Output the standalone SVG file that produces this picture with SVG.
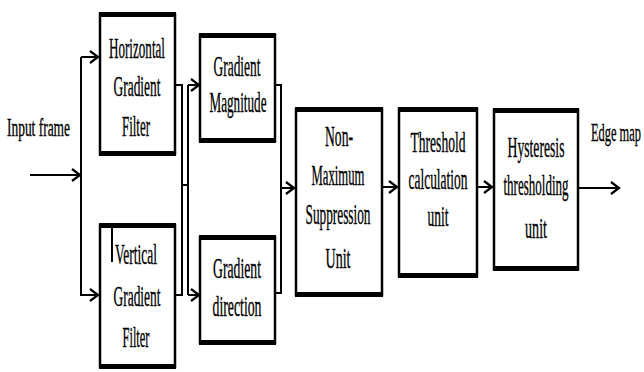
<svg xmlns="http://www.w3.org/2000/svg" width="644" height="372" viewBox="0 0 644 372">
<defs>
<marker id="arr" markerUnits="userSpaceOnUse" markerWidth="14" markerHeight="16" refX="9" refY="7" orient="auto">
<path d="M1,1 L9,7 L1,13" fill="none" stroke="#000" stroke-width="2.2"/>
</marker>
</defs>
<style>
.box{fill:#fff;stroke:#000;stroke-width:2.5}
.thick{stroke:#000;stroke-width:5;fill:none}
.t{font-family:"Liberation Serif","Times New Roman",serif;font-size:29px;fill:#000;stroke:#000;stroke-width:0.35;text-anchor:middle}
.c{fill:none;stroke:#000;stroke-width:2}
</style>
<rect width="644" height="372" fill="#fff"/>
<g id="connectors">
<path class="c" d="M30,175 H80" stroke-width="3" marker-end="url(#arr)"/>
<path class="c" d="M81,57 V296"/>
<path class="c" d="M81,57 H98" marker-end="url(#arr)"/>
<path class="c" d="M81,295 H98" marker-end="url(#arr)"/>
<path class="c" d="M175,85 H182 V295 H175"/>
<path class="c" d="M182,185 H188"/>
<path class="c" d="M188,85 V295"/>
<path class="c" d="M188,85 H199" marker-end="url(#arr)"/>
<path class="c" d="M188,295 H199" marker-end="url(#arr)"/>
<path class="c" d="M275,85 H281 V293 H275"/>
<path class="c" d="M281,188 H294" marker-end="url(#arr)"/>
<path class="c" d="M382,187 H397" marker-end="url(#arr)"/>
<path class="c" d="M477,187 H492" marker-end="url(#arr)"/>
<path class="c" d="M578,188 H619" marker-end="url(#arr)"/>
</g>
<g id="input-label"><text class="t" x="7" y="136" style="text-anchor:start;font-size:25px" textLength="63" lengthAdjust="spacingAndGlyphs">Input frame</text></g>
<g id="hfilter">
<rect class="box" x="100" y="14" width="75" height="140"/>
<path class="thick" d="M99,14.5 H176 M99,153.5 H176"/>
<text class="t" x="137" y="58" textLength="56" lengthAdjust="spacingAndGlyphs">Horizontal</text>
<text class="t" x="137" y="96" textLength="47" lengthAdjust="spacingAndGlyphs">Gradient</text>
<text class="t" x="136" y="136" textLength="28" lengthAdjust="spacingAndGlyphs">Filter</text>
</g>
<g id="vfilter">
<rect class="box" x="100" y="225" width="75" height="142"/>
<path class="thick" d="M99,225.5 H176 M99,366.5 H176"/>
<path class="c" d="M112,226 V262" stroke-width="1.5"/>
<text class="t" x="136" y="264" textLength="42" lengthAdjust="spacingAndGlyphs">Vertical</text>
<text class="t" x="137" y="306" textLength="47" lengthAdjust="spacingAndGlyphs">Gradient</text>
<text class="t" x="136" y="347" textLength="27" lengthAdjust="spacingAndGlyphs">Filter</text>
</g>
<g id="gmag">
<rect class="box" x="200" y="35" width="75" height="106"/>
<path class="thick" d="M199,35.5 H276 M199,140.5 H276"/>
<text class="t" x="237" y="76" textLength="47" lengthAdjust="spacingAndGlyphs">Gradient</text>
<text class="t" x="238" y="112" textLength="57" lengthAdjust="spacingAndGlyphs">Magnitude</text>
</g>
<g id="gdir">
<rect class="box" x="200" y="237" width="75" height="106"/>
<path class="thick" d="M199,237.5 H276 M199,342.5 H276"/>
<text class="t" x="237" y="278" textLength="48" lengthAdjust="spacingAndGlyphs">Gradient</text>
<text class="t" x="237" y="316" textLength="49" lengthAdjust="spacingAndGlyphs">direction</text>
</g>
<g id="nms">
<rect class="box" x="296" y="109" width="86" height="186"/>
<path class="thick" d="M295,109.5 H383 M295,294.5 H383"/>
<text class="t" x="339" y="146" textLength="28" lengthAdjust="spacingAndGlyphs">Non-</text>
<text class="t" x="338" y="185" textLength="53" lengthAdjust="spacingAndGlyphs">Maximum</text>
<text class="t" x="338" y="224" textLength="65" lengthAdjust="spacingAndGlyphs">Suppression</text>
<text class="t" x="338" y="268" textLength="25" lengthAdjust="spacingAndGlyphs">Unit</text>
</g>
<g id="threshold">
<rect class="box" x="399" y="109" width="78" height="167"/>
<path class="thick" d="M398,109.5 H478 M398,275.5 H478"/>
<text class="t" x="438" y="152" textLength="55" lengthAdjust="spacingAndGlyphs">Threshold</text>
<text class="t" x="438" y="189" textLength="59" lengthAdjust="spacingAndGlyphs">calculation</text>
<text class="t" x="438" y="226" textLength="21" lengthAdjust="spacingAndGlyphs">unit</text>
</g>
<g id="hysteresis">
<rect class="box" x="494" y="110" width="84" height="159"/>
<path class="thick" d="M493,110.5 H579 M493,268.5 H579"/>
<text class="t" x="536" y="157" textLength="57" lengthAdjust="spacingAndGlyphs">Hysteresis</text>
<text class="t" x="536" y="195" textLength="65" lengthAdjust="spacingAndGlyphs">thresholding</text>
<text class="t" x="536" y="238" textLength="22" lengthAdjust="spacingAndGlyphs">unit</text>
</g>
<g id="output-label"><text class="t" x="591" y="141" style="text-anchor:start;font-size:25px" textLength="50" lengthAdjust="spacingAndGlyphs">Edge map</text></g>
</svg>
